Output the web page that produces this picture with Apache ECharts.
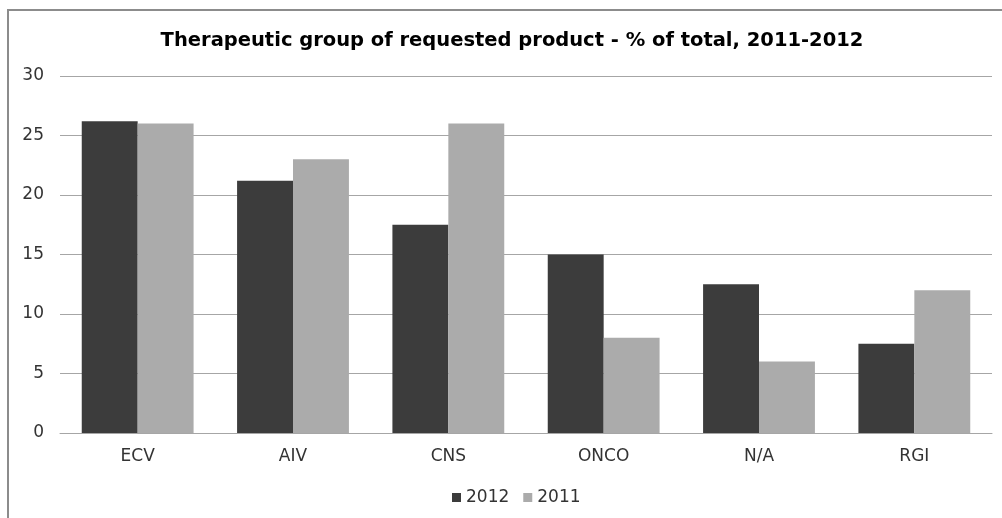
<!DOCTYPE html>
<html>
<head>
<meta charset="utf-8">
<script src="https://cdn.jsdelivr.net/npm/echarts@6/dist/echarts.min.js"></script>
<style>
  html, body { margin: 0; padding: 0; background: #fff; }
  #chart { width: 1002px; height: 518px; }
</style>
</head>
<body>
<div id="chart"></div>
<script>
// Therapeutic groups and their share (%) of requested products
const categories = ['ECV', 'AIV', 'CNS', 'ONCO', 'N/A', 'RGI'];
const values2012 = [26.2, 21.2, 17.5, 15, 12.5, 7.5];
const values2011 = [26, 23, 26, 8, 6, 12];
const yTicks = [0, 5, 10, 15, 20, 25, 30];

const FONT = '"DejaVu Sans", Verdana, sans-serif';
const chart = echarts.init(document.getElementById('chart'), null, { renderer: 'canvas' });

chart.setOption({
  backgroundColor: '#ffffff',
  animation: false,
  graphic: [{
    type: 'rect',
    shape: { x: 8, y: 10, width: 1020, height: 530 },
    style: { fill: 'none', stroke: '#8c8c8c', lineWidth: 2 },
    silent: true
  }],
  title: {
    text: 'Therapeutic group of requested product - % of total, 2011-2012',
    left: 507,
    top: 26,
    textAlign: 'center',
    textStyle: { fontFamily: FONT, fontSize: 19.5, fontWeight: 'bold', color: '#000' }
  },
  legend: {
    data: ['2012', '2011'],
    left: 447,
    top: 484,
    icon: 'rect',
    itemWidth: 9,
    itemHeight: 9,
    itemGap: 14,
    textStyle: { fontFamily: FONT, fontSize: 17, color: '#333' }
  },
  grid: { left: 60, right: 10, top: 76, bottom: 85, containLabel: false },
  xAxis: {
    type: 'category',
    data: categories,
    axisLine: { show: true, lineStyle: { color: '#a6a6a6', width: 1 } },
    axisTick: { show: false },
    axisLabel: { fontFamily: FONT, fontSize: 17, color: '#333', margin: 15 }
  },
  yAxis: {
    type: 'value',
    min: yTicks[0],
    max: yTicks[yTicks.length - 1],
    interval: 5,
    axisLine: { show: false },
    axisTick: { show: false },
    splitLine: { lineStyle: { color: '#a6a6a6', width: 1 } },
    axisLabel: { fontFamily: FONT, fontSize: 17, color: '#333', margin: 16 }
  },
  series: [
    {
      name: '2012',
      type: 'bar',
      data: values2012,
      barGap: '0%',
      barCategoryGap: '28%',
      itemStyle: { color: '#3c3c3c' }
    },
    {
      name: '2011',
      type: 'bar',
      data: values2011,
      itemStyle: { color: '#ababab' }
    }
  ]
});
</script>
</body>
</html>
